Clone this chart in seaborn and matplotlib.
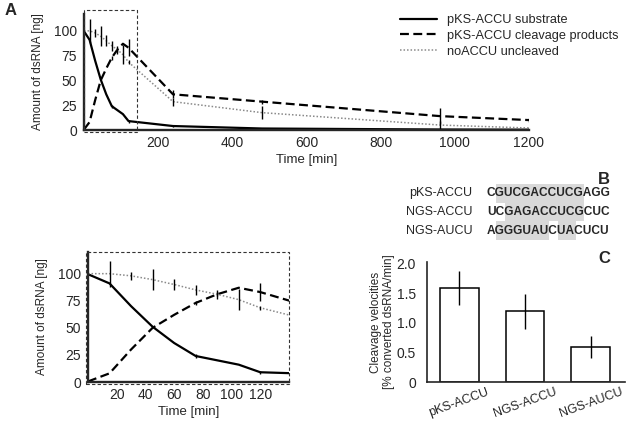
import matplotlib
matplotlib.use('Agg')
import matplotlib.pyplot as plt
from matplotlib.patches import Rectangle, ConnectionPatch
import seaborn as sns

# Panel A: kinetics (time in min, amount in ng)
time_min = [0, 15, 30, 45, 60, 75, 90, 105, 120, 240, 480, 960, 1200]
substrate = [99.5, 91, 70, 51, 36, 24, 20, 16, 9, 4, 1.5, 0.5, 0.3]
substrate_err = [0, 0, 0, 0, 0, 1.5, 0, 0, 1.5, 1, 0, 0, 0]
products = [0.5, 8, 30, 50, 62, 73, 81, 87, 83, 36, 28.6, 14, 10]
products_err = [0, 0, 0, 0, 0, 2, 2, 0, 8.5, 4, 2, 8, 2]
uncleaved = [100, 100, 98, 94.5, 90, 85, 81, 76, 68.5, 28.6, 17.5, 5, 2]
uncleaved_err = [0, 12, 4, 10, 5.5, 5, 4, 9.5, 2, 4, 6.5, 4, 1]
series_labels = ['pKS-ACCU substrate', 'pKS-ACCU cleavage products', 'noACCU uncleaved']

# Panel B: sequences
seq_names = ['pKS-ACCU', 'NGS-ACCU', 'NGS-AUCU']
sequences = ['CGUCGACCUCGAGG', 'UCGAGACCUCGCUC', 'AGGGUAUCUACUCU']
shaded = [[(1, 11)], [(2, 11)], [(1, 7), (8, 10)]]

# Panel C: cleavage velocities
constructs = ['pKS-ACCU', 'NGS-ACCU', 'NGS-AUCU']
velocity = [1.59, 1.195, 0.59]
velocity_err = [0.29, 0.29, 0.18]

sns.set_style('ticks')
plt.rcParams['font.family'] = ['Liberation Sans', 'DejaVu Sans']

W, H = 626, 422
fig = plt.figure(figsize=(W / 100, H / 100), dpi=100)


def px_axes(left, top, right, bottom):
    return fig.add_axes([left / W, 1 - bottom / H, (right - left) / W, (bottom - top) / H])


styles = [
    dict(color='black', lw=1.6, linestyle='-'),
    dict(color='black', lw=1.6, linestyle=(0, (4, 2))),
    dict(color='#8a8a8a', lw=1.1, linestyle=(0, (1, 1.3))),
]


def draw_kinetics(ax):
    for vals, errs, st, lab in zip([substrate, products, uncleaved],
                                   [substrate_err, products_err, uncleaved_err],
                                   styles, series_labels):
        sns.lineplot(x=time_min, y=vals, ax=ax, label=lab, **st)
        ax.errorbar(time_min, vals, yerr=errs, fmt='none', ecolor='black', elinewidth=1.0)
    if ax.get_legend() is not None:
        ax.get_legend().remove()
    for s in ['top', 'right']:
        ax.spines[s].set_visible(False)
    for s in ['left', 'bottom']:
        ax.spines[s].set_linewidth(1.7)
    ax.set_yticks([0, 25, 50, 75, 100])
    ax.tick_params(length=0, labelsize=10)
    ax.tick_params(axis='y', pad=5)
    ax.tick_params(axis='x', pad=4)
    ax.set_xlabel('Time [min]', fontsize=9.5, labelpad=3)
    ax.set_ylabel('Amount of dsRNA [ng]', fontsize=8.5, labelpad=7)


# top overview
ax_top = px_axes(84, 14, 529, 130)
draw_kinetics(ax_top)
ax_top.set_xlim(0, 1200)
ax_top.set_ylim(0, 117)
ax_top.set_xticks([200, 400, 600, 800, 1000, 1200])
ax_top.add_patch(Rectangle((0, -2), 142, 123, fill=False, ls=(0, (3, 2)), lw=0.8,
                           color='#333333', clip_on=False, zorder=5))

# zoomed view
ax_low = px_axes(88, 252, 289, 382)
draw_kinetics(ax_low)
ax_low.set_xlim(0, 140)
ax_low.set_ylim(0, 120)
ax_low.set_xticks([20, 40, 60, 80, 100, 120])
ax_low.add_patch(Rectangle((-0.012, -0.015), 1.012, 1.015, transform=ax_low.transAxes,
                           fill=False, ls=(0, (3, 2)), lw=0.8, color='#333333',
                           clip_on=False, zorder=5))

for xa, xb in [(0, -0.012), (142, 1.0)]:
    con = ConnectionPatch(xyA=(xa, -2), coordsA='data', axesA=ax_top,
                          xyB=(xb, 1.0), coordsB='axes fraction', axesB=ax_low,
                          ls=(0, (3, 2)), lw=0.7, color='#333333')
    fig.add_artist(con)

leg_lines = [l for l in ax_top.get_lines() if l.get_label() in series_labels]
fig.legend(leg_lines, series_labels, loc='upper left', bbox_to_anchor=(400 / W, 1 - 14 / H),
           frameon=False, fontsize=9.2, handlelength=2.9, handletextpad=0.75,
           labelspacing=0.3, borderpad=0, borderaxespad=0)

# Panel B
ax_b = px_axes(487, 184, 611, 240)
ax_b.set_xlim(0, 14)
ax_b.set_ylim(3, 0)
ax_b.axis('off')
for i, (name, seq) in enumerate(zip(seq_names, sequences)):
    for a, b in shaded[i]:
        ax_b.add_patch(Rectangle((a, i), b - a, 1, color='#d9d9d9', lw=0, zorder=0))
    ax_b.text(0, i + 0.5, seq, fontsize=8.6, fontweight='bold', ha='left', va='center', zorder=2)
    ax_b.text(-1.65, i + 0.5, name, fontsize=9, ha='right', va='center')

# Panel C
ax_c = px_axes(427, 262, 625, 382)
sns.barplot(x=constructs, y=velocity, ax=ax_c, color='white', edgecolor='black',
            linewidth=1.1, width=0.59)
ax_c.errorbar(range(len(constructs)), velocity, yerr=velocity_err, fmt='none',
              ecolor='black', elinewidth=1.0)
ax_c.set_xlim(-0.49, 2.52)
ax_c.set_ylim(0, 2.03)
ax_c.set_yticks([0, 0.5, 1.0, 1.5, 2.0])
ax_c.set_yticklabels(['0', '0.5', '1.0', '1.5', '2.0'])
ax_c.tick_params(length=0, labelsize=10)
ax_c.tick_params(axis='y', pad=8)
ax_c.tick_params(axis='x', labelsize=9, pad=3)
for t in ax_c.get_xticklabels():
    t.set_rotation(20)
    t.set_ha('center')
for s in ['top', 'right']:
    ax_c.spines[s].set_visible(False)
for s in ['left', 'bottom']:
    ax_c.spines[s].set_linewidth(1.2)
ax_c.set_xlabel('')
ax_c.set_ylabel('Cleavage velocities\n[% converted dsRNA/min]', fontsize=8.5, labelpad=1,
                linespacing=1.1)

# panel letters
for letter, x, y in [('A', 5, 3), ('B', 598, 172), ('C', 598, 251)]:
    fig.text(x / W, 1 - y / H, letter, fontsize=12, fontweight='bold', ha='left', va='top')

fig.savefig('out.png', dpi=100)
